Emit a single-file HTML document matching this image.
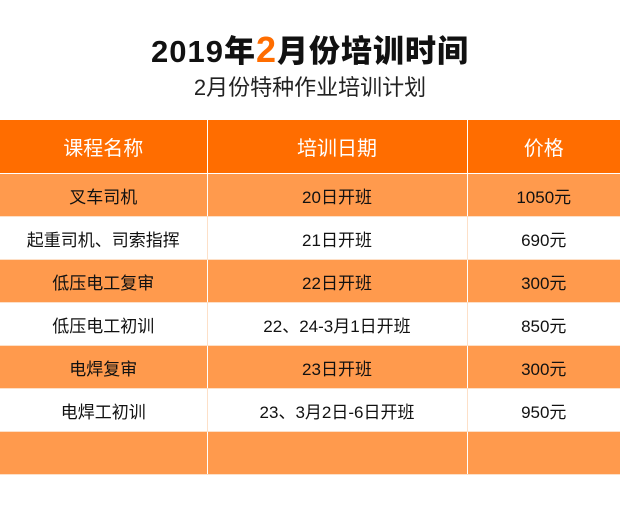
<!DOCTYPE html>
<html><head><meta charset="utf-8"><style>
body{margin:0;width:620px;height:523px;background:#fff;overflow:hidden;font-family:"Liberation Sans","Noto Sans CJK SC",sans-serif;position:relative}
.t{position:absolute;left:0;width:620px;text-align:center}
#title{top:28px;font-size:31px;font-weight:900;color:#111;line-height:44px;letter-spacing:1px}
#title span{color:#ff6d00;font-size:36px}
#sub{top:73px;font-size:22px;color:#222;line-height:30px}
table{position:absolute;left:0;top:120px;width:620px;border-collapse:collapse;table-layout:fixed}
td{text-align:center;font-size:17px;color:#111;height:42px;padding:0;border-left:1px solid #fff;border-right:1px solid #fff;border-bottom:1px solid #fde0c8}
tr.h td{background:#ff6d00;color:#fff;font-size:20px;height:53px;border-bottom:1px solid #fff}
tr.o td{background:#ff9a4d}
tr.w td{background:#fff;border-left-color:#fde0c8;border-right-color:#fde0c8}
td:first-child{border-left:none}td:last-child{border-right:none}
</style></head><body>
<div class="t" id="title">2019年<span>2</span>月份培训时间</div>
<div class="t" id="sub">2月份特种作业培训计划</div>
<table>
<colgroup><col style="width:207px"><col style="width:260px"><col style="width:153px"></colgroup>
<tr class="h"><td>课程名称</td><td>培训日期</td><td>价格</td></tr>
<tr class="o"><td>叉车司机</td><td>20日开班</td><td>1050元</td></tr>
<tr class="w"><td>起重司机、司索指挥</td><td>21日开班</td><td>690元</td></tr>
<tr class="o"><td>低压电工复审</td><td>22日开班</td><td>300元</td></tr>
<tr class="w"><td>低压电工初训</td><td>22、24-3月1日开班</td><td>850元</td></tr>
<tr class="o"><td>电焊复审</td><td>23日开班</td><td>300元</td></tr>
<tr class="w"><td>电焊工初训</td><td>23、3月2日-6日开班</td><td>950元</td></tr>
<tr class="o"><td></td><td></td><td></td></tr>
</table>
</body></html>
